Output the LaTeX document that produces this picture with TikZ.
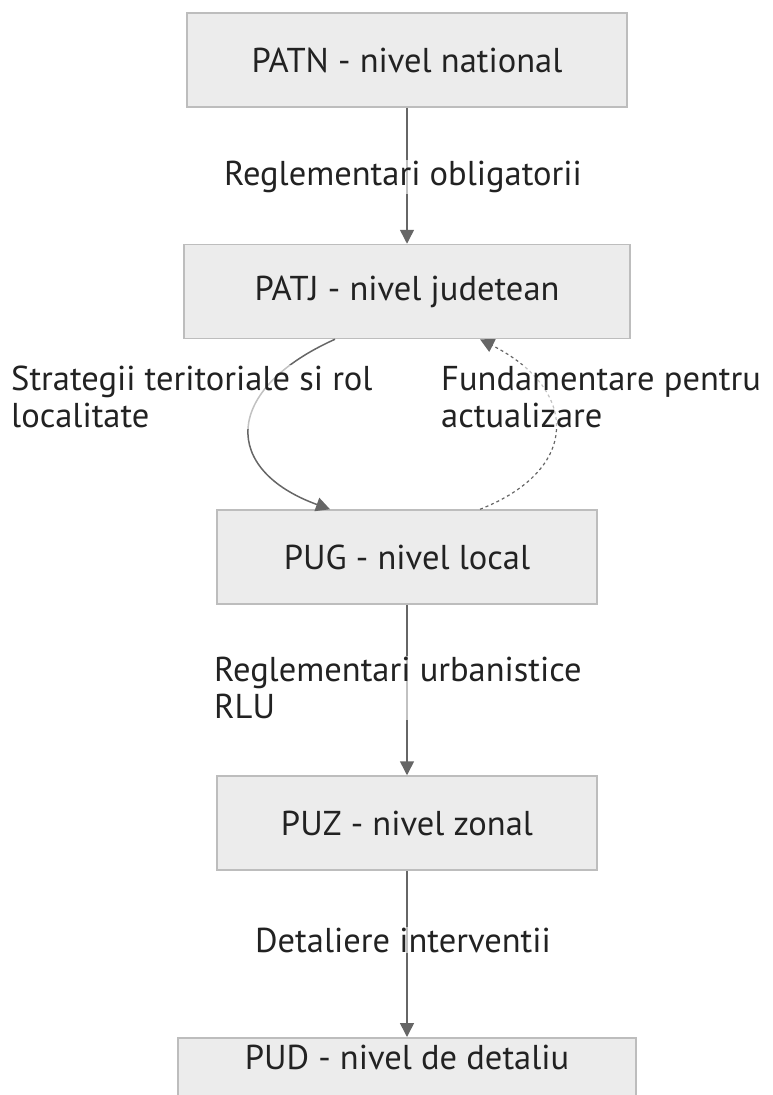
\documentclass[tikz,border=0pt]{standalone}
\usepackage{fontspec}
\setmainfont{PT Sans}
\usetikzlibrary{arrows.meta,calc}
\definecolor{boxfill}{HTML}{ECECEC}
\definecolor{boxline}{HTML}{BDBDBD}
\definecolor{edge}{HTML}{666666}
\definecolor{txt}{HTML}{222222}
\begin{document}
\begin{tikzpicture}[x=1pt,y=-1pt,
  level/.style={draw=boxline,line width=1.5pt,fill=boxfill,minimum height=94pt,inner sep=0pt,text=txt,font=\fontsize{34.5}{38}\selectfont},
  elabel/.style={fill=white,fill opacity=0.6,text opacity=1,text=txt,inner sep=1pt,font=\fontsize{34.5}{34}\selectfont},
  conn/.style={draw=edge,line width=1.5pt,-{Triangle[width=14pt,length=14pt]}},
  dconn/.style={conn,dashed,dash pattern=on 3pt off 3pt,line width=1.2pt}]
\useasboundingbox (0,0) rectangle (773,1095);
\node[level,minimum width=440pt] (patn) at (407,60) {PATN - nivel national};
\node[level,minimum width=446pt] (patj) at (407,291.5) {PATJ - nivel judetean};
\node[level,minimum width=380pt] (pug) at (407,557) {PUG - nivel local};
\node[level,minimum width=380pt] (puz) at (407,823) {PUZ - nivel zonal};
\node[level,minimum width=458pt,minimum height=0pt,text height=32pt,text depth=62pt,anchor=north] (pud) at (407,1037) {PUD - nivel de detaliu};
\draw[conn] (patn) -- (patj);
\draw[conn] ([xshift=-72pt]patj.south) .. controls (222,390) and (222,470) .. ([xshift=-77pt]pug.north);
\draw[dconn] ([xshift=73pt]pug.north) .. controls (580,470) and (580,390) .. ([xshift=73pt]patj.south);
\draw[conn] (pug) -- (puz);
\draw[conn] (puz) -- (pud);
\node[elabel] (l1) at (403,177) {Reglementari obligatorii};
\node[elabel,anchor=west,align=left] (l2) at (10,397) {Strategii teritoriale si rol\\[3pt]localitate};
\node[elabel,anchor=west,align=left] (l3) at (440,397) {Fundamentare pentru\\[3pt]actualizare};
\node[elabel,anchor=west,align=left] (l4) at (213,688) {Reglementari urbanistice\\[3pt]RLU};
\node[elabel] (l5) at (403,940) {Detaliere interventii};
\end{tikzpicture}
\end{document}
